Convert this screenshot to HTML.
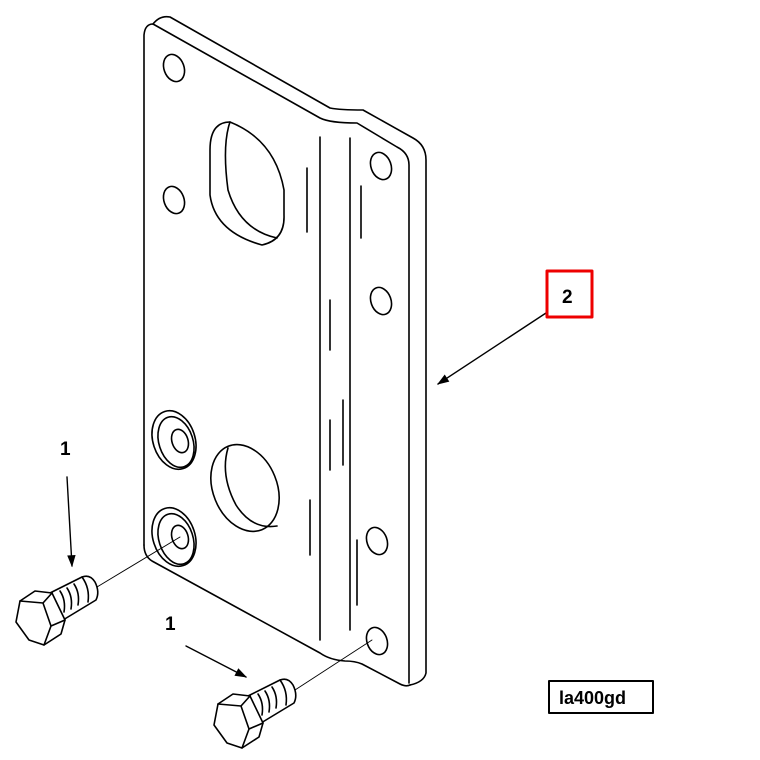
<!DOCTYPE html>
<html><head><meta charset="utf-8"><style>body{margin:0;background:#fff}svg{display:block}</style></head><body>
<svg width="760" height="760" viewBox="0 0 760 760" xmlns="http://www.w3.org/2000/svg" fill="none" stroke="#000" stroke-width="1.6" stroke-linejoin="round" stroke-linecap="round">
<defs>
<marker id="ah2" viewBox="0 0 10 10" refX="9" refY="5" markerWidth="16" markerHeight="12" orient="auto" markerUnits="userSpaceOnUse"><path d="M0,1.5 L10,5 L0,8.5 z" fill="#000" stroke="none"/></marker>
<g id="bolt">
<path d="M50,593 L82,577 Q90,574 95,582 Q100,592 96,600 L63,620" fill="#fff"/>
<path d="M82,577 Q90,588 88,602"/>
<path d="M60,591 Q66,600 64,612 M67,588 Q73,597 71,609 M74,584 Q80,593 78,605"/>
<path d="M20,601 L35,591 L52,593 L65,620 L61,634 L44,645 L29,640 L16,622 Z" fill="#fff"/>
<path d="M20,601 L43,603 L51,626 L44,645 M43,603 L52,593 M51,626 L65,620"/>
</g>
</defs>
<path d="M144,545 L144,35 Q145,24 153,24 L320,118 Q330,123 357,123 L397,147 Q409,153 409,165 L409,683"/>
<path d="M153,24 Q160,15 170,17 L330,108 Q340,110 363,110 L413,138 Q426,145 426,160 L426,673 Q424,682 410,685"/>
<path d="M144,545 Q144,556 152,561 L320,653 Q330,660 345,661 Q355,661 362,664 L400,684 Q406,687 410,685"/>
<ellipse cx="174" cy="68" rx="10" ry="14" transform="rotate(-20 174 68)"/>
<ellipse cx="174" cy="200" rx="10" ry="14" transform="rotate(-20 174 200)"/>
<ellipse cx="381" cy="166" rx="10" ry="14" transform="rotate(-20 381 166)"/>
<ellipse cx="381" cy="301" rx="10" ry="14" transform="rotate(-20 381 301)"/>
<ellipse cx="377" cy="541" rx="10" ry="14" transform="rotate(-20 377 541)"/>
<ellipse cx="377" cy="641" rx="10" ry="14" transform="rotate(-20 377 641)"/>
<path d="M230,122 Q210,122 210,150 L210,195 Q215,232 262,245 Q285,240 284,215 L284,190 Q275,140 230,122 Z"/>
<path d="M230,122 Q222,145 228,190 Q240,230 277,238"/>
<ellipse cx="245" cy="488" rx="32" ry="45" transform="rotate(-22 245 488)"/>
<path d="M228,448 Q220,475 236,505 Q252,530 277,526"/>
<ellipse cx="174" cy="440" rx="21" ry="30" transform="rotate(-18 174 440)"/>
<ellipse cx="176" cy="442" rx="17" ry="26" transform="rotate(-18 176 442)"/>
<ellipse cx="180" cy="441" rx="8" ry="12" transform="rotate(-18 180 441)"/>
<ellipse cx="174" cy="537" rx="21" ry="30" transform="rotate(-18 174 537)"/>
<ellipse cx="176" cy="539" rx="17" ry="26" transform="rotate(-18 176 539)"/>
<ellipse cx="180" cy="537" rx="8" ry="12" transform="rotate(-18 180 537)"/>
<path d="M320,137 L320,640 M350,138 L350,630 M307,168 L307,232 M361,186 L361,238 M330,300 L330,350 M343,400 L343,465 M310,500 L310,555 M357,540 L357,605 M330,420 L330,470"/>
<path d="M97,587 L180,537 M295,690 L372,640" stroke-width="0.9"/>
<use href="#bolt"/>
<use href="#bolt" transform="translate(198,103)"/>
<path d="M67,477 L72,566" marker-end="url(#ah2)" stroke-width="1.4"/>
<path d="M186,646 L246,677" marker-end="url(#ah2)" stroke-width="1.4"/>
<path d="M546,313 L438,384" marker-end="url(#ah2)" stroke-width="1.4"/>
<g stroke="none" fill="#000" font-family="Liberation Sans, sans-serif" font-weight="bold" font-size="19">
<text x="60" y="455">1</text>
<text x="165" y="630">1</text>
<text x="562" y="303">2</text>
<text x="559" y="704" font-size="18">la400gd</text>
</g>
<rect x="547" y="271" width="45" height="46" stroke="#e00" stroke-width="3"/>
<rect x="549" y="681" width="104" height="32" stroke-width="2"/>
</svg>
</body></html>
